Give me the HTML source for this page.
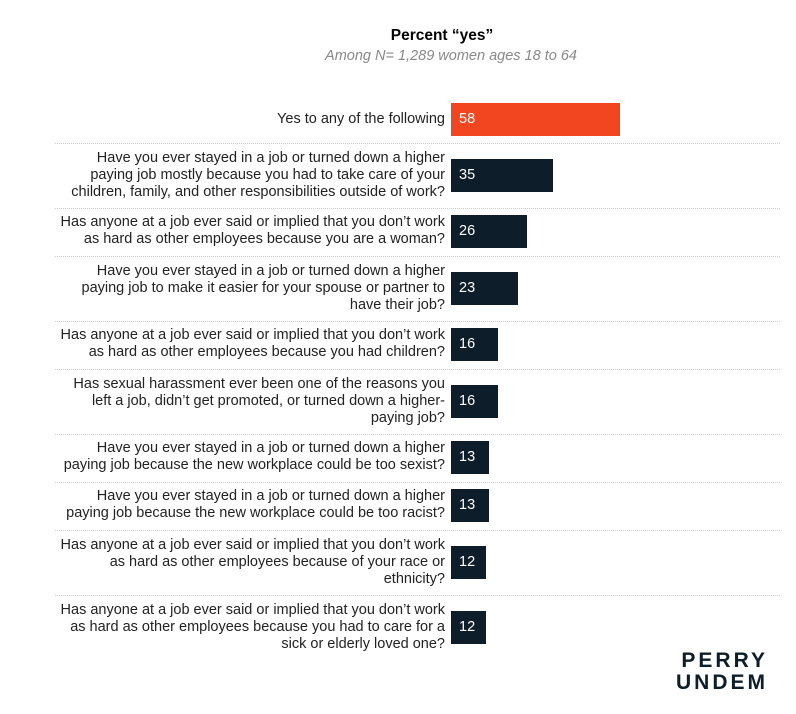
<!DOCTYPE html>
<html><head><meta charset="utf-8"><style>
body{margin:0;background:#fff;width:796px;height:714px;overflow:hidden;font-family:"Liberation Sans",sans-serif}
.lbl{position:absolute;right:351px;text-align:right;font-size:14.5px;line-height:17px;color:#222;width:440px;white-space:nowrap}
.bar{position:absolute;left:451px;height:33px}
.val{position:absolute;left:8px;top:8px;color:#fff;font-size:14.5px}
.sep{position:absolute;left:55px;width:725px;border-top:1px dotted #ccc}
</style></head><body>
<div style="position:absolute;top:27px;left:0;width:884px;text-align:center;font-weight:bold;font-size:15.5px;color:#000">Percent “yes”</div>
<div style="position:absolute;top:48px;left:0;width:902px;text-align:center;font-style:italic;font-size:14.5px;color:#888">Among N= 1,289 women ages 18 to 64</div>
<div id="chart"></div>
<div style="position:absolute;left:655px;top:650px;font-weight:bold;font-size:21px;letter-spacing:3px;color:#0d1d29;line-height:22px;text-align:right;width:113px">PERRY<br>UNDEM</div>
<script>
const categories=["Yes to any of the following","Have you ever stayed in a job or turned down a higher<br>paying job mostly because you had to take care of your<br>children, family, and other responsibilities outside of work?","Has anyone at a job ever said or implied that you don’t work<br>as hard as other employees because you are a woman?","Have you ever stayed in a job or turned down a higher<br>paying job to make it easier for your spouse or partner to<br>have their job?","Has anyone at a job ever said or implied that you don’t work<br>as hard as other employees because you had children?","Has sexual harassment ever been one of the reasons you<br>left a job, didn’t get promoted, or turned down a higher-<br>paying job?","Have you ever stayed in a job or turned down a higher<br>paying job because the new workplace could be too sexist?","Have you ever stayed in a job or turned down a higher<br>paying job because the new workplace could be too racist?","Has anyone at a job ever said or implied that you don’t work<br>as hard as other employees because of your race or<br>ethnicity?","Has anyone at a job ever said or implied that you don’t work<br>as hard as other employees because you had to care for a<br>sick or elderly loved one?"];
const values=[58,35,26,23,16,16,13,13,12,12];
const centers=[119,175,231,288,344,401,457,505,562,627];
const seps=[143,208,256,321,369,434,482,530,595];
const x=v=>v*2.91;
const c=document.getElementById('chart');
seps.forEach(y=>{const s=document.createElement('div');s.className='sep';s.style.top=y+'px';


c.appendChild(s);});
categories.forEach((t,i)=>{
const n=t.split('<br>').length;
const l=document.createElement('div');l.className='lbl';l.innerHTML=t;l.style.top=(centers[i]-n*17/2)+'px';


c.appendChild(l);
const b=document.createElement('div');b.className='bar';b.style.top=(centers[i]-16)+'px';b.style.width=x(values[i])+'px';
b.style.background=i==0?'#f24620':'#0d1d29';


const v=document.createElement('span');v.className='val';v.textContent=values[i];


b.appendChild(v);c.appendChild(b);
});
</script>
</body></html>
